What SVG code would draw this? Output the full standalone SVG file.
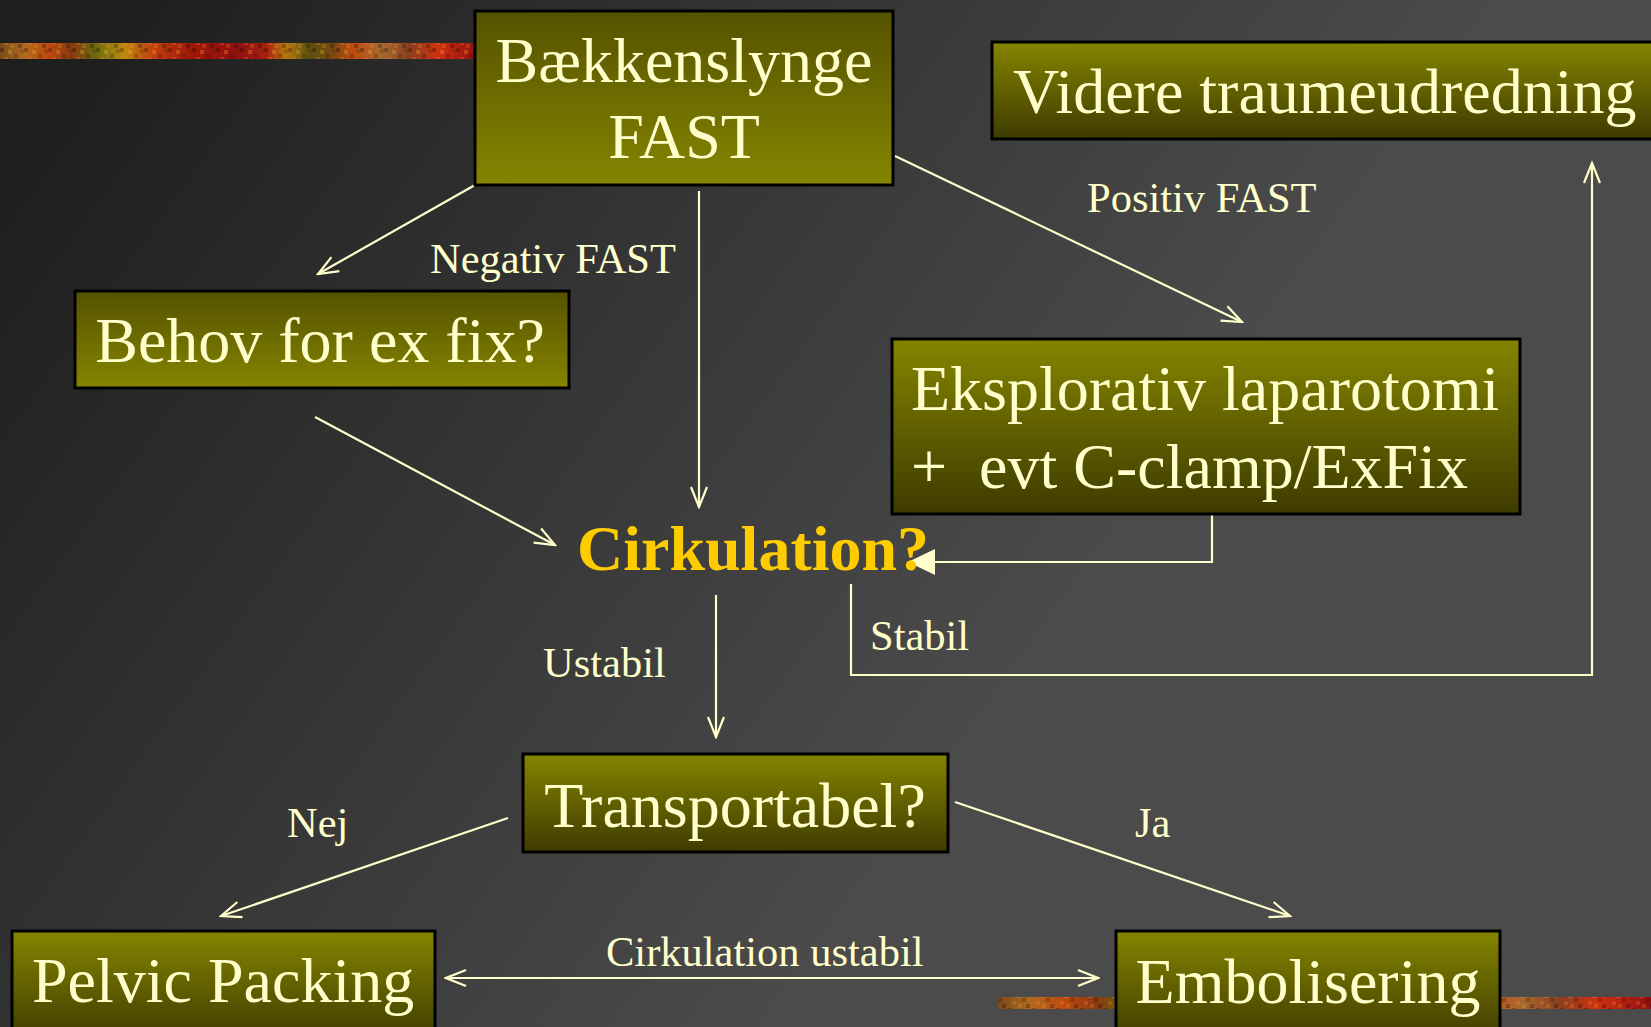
<svg xmlns="http://www.w3.org/2000/svg" width="1651" height="1027" viewBox="0 0 1651 1027">
<defs>
<linearGradient id="bg" gradientUnits="userSpaceOnUse" x1="80" y1="40" x2="1000" y2="700">
<stop offset="0" stop-color="#1e1e1e"/>
<stop offset="1" stop-color="#4b4b4b"/>
</linearGradient>
<linearGradient id="up" x1="0" y1="0" x2="0" y2="1">
<stop offset="0" stop-color="#555200"/>
<stop offset="1" stop-color="#858500"/>
</linearGradient>
<linearGradient id="down" x1="0" y1="0" x2="0" y2="1">
<stop offset="0" stop-color="#858500"/>
<stop offset="1" stop-color="#3e3b00"/>
</linearGradient>
<linearGradient id="strip" x1="0" y1="0" x2="1" y2="0">
<stop offset="0" stop-color="#7a4a1a"/>
<stop offset="0.05" stop-color="#b06a20"/>
<stop offset="0.1" stop-color="#c04a10"/>
<stop offset="0.15" stop-color="#8a3a10"/>
<stop offset="0.2" stop-color="#6a6a10"/>
<stop offset="0.26" stop-color="#c08a10"/>
<stop offset="0.32" stop-color="#c04010"/>
<stop offset="0.4" stop-color="#a01808"/>
<stop offset="0.5" stop-color="#901010"/>
<stop offset="0.56" stop-color="#a82010"/>
<stop offset="0.6" stop-color="#b87a10"/>
<stop offset="0.65" stop-color="#5a5010"/>
<stop offset="0.7" stop-color="#7a4a10"/>
<stop offset="0.74" stop-color="#c04a10"/>
<stop offset="0.8" stop-color="#a86a30"/>
<stop offset="0.86" stop-color="#8a4020"/>
<stop offset="0.92" stop-color="#d03010"/>
<stop offset="1" stop-color="#901010"/>
</linearGradient>
<pattern id="mottle" patternUnits="userSpaceOnUse" width="24" height="16">
<rect x="0" y="0" width="4" height="4" fill="#000" opacity="0.25"/>
<rect x="8" y="2" width="4" height="4" fill="#ffcc33" opacity="0.25"/>
<rect x="14" y="6" width="4" height="4" fill="#000" opacity="0.2"/>
<rect x="4" y="9" width="4" height="4" fill="#ff8833" opacity="0.25"/>
<rect x="18" y="12" width="4" height="4" fill="#000" opacity="0.25"/>
<rect x="10" y="12" width="4" height="4" fill="#ffaa22" opacity="0.2"/>
<rect x="20" y="1" width="4" height="4" fill="#553300" opacity="0.3"/>
</pattern>
<marker id="open" viewBox="-22 -10 24 20" refX="0" refY="0" markerWidth="24" markerHeight="20" markerUnits="userSpaceOnUse" orient="auto-start-reverse">
<path d="M-20,-8 L0,0 L-20,8" fill="none" stroke="#ffffcc" stroke-width="2.2"/>
</marker>
<marker id="solid" viewBox="-28 -14 30 28" refX="0" refY="0" markerWidth="30" markerHeight="28" markerUnits="userSpaceOnUse" orient="auto">
<path d="M-27,-13 L0,0 L-27,13 Z" fill="#ffffcc"/>
</marker>
</defs>
<style>
.box{stroke:#000;stroke-width:3}
.big{font-family:"Liberation Serif","Times New Roman",serif;font-size:64px;fill:#ffffcc}
.lbl{font-family:"Liberation Serif","Times New Roman",serif;font-size:42.5px;fill:#ffffcc}
.ln{fill:none;stroke:#ffffcc;stroke-width:2.2}
</style>
<rect width="1651" height="1027" fill="url(#bg)"/>
<rect x="0" y="43" width="476" height="16" fill="url(#strip)"/>
<rect x="0" y="43" width="476" height="16" fill="url(#mottle)"/>
<rect x="998" y="997" width="653" height="12" fill="url(#strip)"/>
<rect x="998" y="997" width="653" height="12" fill="url(#mottle)"/>

<g id="connectors">
<line class="ln" x1="475" y1="185" x2="318" y2="274" marker-end="url(#open)"/>
<line class="ln" x1="699" y1="191" x2="699" y2="507" marker-end="url(#open)"/>
<line class="ln" x1="895" y1="156" x2="1242" y2="322" marker-end="url(#open)"/>
<line class="ln" x1="315" y1="417" x2="555" y2="545" marker-end="url(#open)"/>
<path class="ln" d="M1212,514 V562 H908" marker-end="url(#solid)"/>
<path class="ln" d="M851,584 V675 H1592 V163" marker-end="url(#open)"/>
<line class="ln" x1="716" y1="595" x2="716" y2="737" marker-end="url(#open)"/>
<line class="ln" x1="508" y1="818" x2="221" y2="916" marker-end="url(#open)"/>
<line class="ln" x1="955" y1="802" x2="1290" y2="916" marker-end="url(#open)"/>
<line class="ln" x1="446" y1="978" x2="1098" y2="978" marker-start="url(#open)" marker-end="url(#open)"/>
<text class="lbl" x="430" y="273">Negativ FAST</text>
<text class="lbl" x="1087" y="212">Positiv FAST</text>
<text class="lbl" x="870" y="650">Stabil</text>
<text class="lbl" x="543" y="677">Ustabil</text>
<text class="lbl" x="287" y="837">Nej</text>
<text class="lbl" x="1135" y="837">Ja</text>
<text class="lbl" x="606" y="966">Cirkulation ustabil</text>
</g>

<g id="baekkenslynge">
<rect class="box" x="475" y="11" width="418" height="174" fill="url(#up)"/>
<text class="big" x="684" y="82" text-anchor="middle">Bækkenslynge</text>
<text class="big" x="684" y="158" text-anchor="middle">FAST</text>
</g>
<g id="videre">
<rect class="box" x="992" y="42" width="665" height="97" fill="url(#down)"/>
<text class="big" x="1013" y="113">Videre traumeudredning</text>
</g>
<g id="behov">
<rect class="box" x="75" y="291" width="494" height="97" fill="url(#up)"/>
<text class="big" x="320" y="362" text-anchor="middle">Behov for ex fix?</text>
</g>
<g id="eksplorativ">
<rect class="box" x="892" y="339" width="628" height="175" fill="url(#down)"/>
<text class="big" x="911" y="410">Eksplorativ laparotomi</text>
<text class="big" x="911" y="488" xml:space="preserve">+  evt C-clamp/ExFix</text>
</g>
<g id="cirkulation">
<text x="577" y="570" font-family="Liberation Serif, Times New Roman, serif" font-size="64" font-weight="bold" fill="#ffcc00">Cirkulation?</text>
</g>
<g id="transportabel">
<rect class="box" x="523" y="754" width="425" height="98" fill="url(#down)"/>
<text class="big" x="735" y="827" text-anchor="middle">Transportabel?</text>
</g>
<g id="pelvic">
<rect class="box" x="12" y="931" width="423" height="110" fill="url(#down)"/>
<text class="big" x="32" y="1002">Pelvic Packing</text>
</g>
<g id="embolisering">
<rect class="box" x="1116" y="931" width="384" height="110" fill="url(#down)"/>
<text class="big" x="1308" y="1003" text-anchor="middle">Embolisering</text>
</g>
</svg>
